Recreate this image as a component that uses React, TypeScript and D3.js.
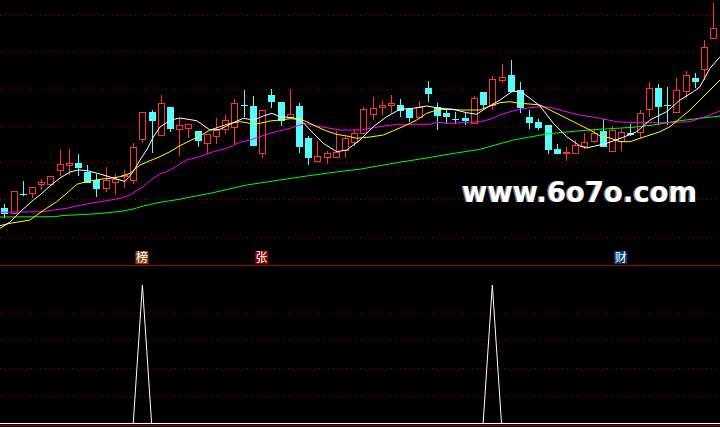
import React from "react";
import * as d3 from "d3";

const W = 720;
const H = 427;

// candle data (price units)
const opens = [
  9.2, 8.67, 10.58, 10.75, 11.55, 11.55, 12.97, 13.53, 13.7, 12.8,
  12.0, 11.23, 11.85, 12.37, 12.0, 16.15, 18.77, 16.53, 19.27, 17.07,
  17.25, 16.9, 15.67, 16.45, 17.12, 17.33, 19.47, 19.4, 14.67, 20.5,
  19.78, 18.3, 19.4, 16.2, 13.95, 14.33, 14.33, 15.04, 15.85, 16.67,
  18.57, 19.33, 19.47, 19.47, 19.05, 18.33, 21.18, 19.35, 18.7, 18.09,
  18.25, 17.67, 20.78, 19.55, 22.0, 22.5, 21.0, 18.3, 17.8, 17.5,
  15.08, 14.73, 14.73, 15.37, 15.93, 16.9, 14.93, 15.93, 16.7, 16.77,
  19.07, 21.17, 19.48, 18.77, 20.93, 22.17, 23.07, 26.17, 26.77,
];
const closes = [
  8.67, 10.87, 10.56, 11.27, 11.77, 12.4, 13.6, 13.7, 13.32, 11.8,
  11.23, 12.0, 12.1, 12.55, 15.28, 18.77, 18.02, 19.68, 17.23, 17.47,
  17.6, 16.02, 16.6, 17.05, 17.98, 19.67, 19.46, 15.5, 19.0, 19.93,
  18.0, 18.58, 15.43, 14.33, 14.4, 14.68, 14.8, 16.18, 16.67, 19.07,
  19.17, 19.48, 19.67, 18.98, 18.32, 19.35, 20.7, 18.52, 18.4, 18.08,
  18.03, 20.17, 19.65, 22.07, 22.27, 20.92, 19.33, 17.8, 17.33, 15.13,
  14.73, 14.78, 15.47, 15.78, 16.7, 15.43, 17.02, 16.77, 16.6, 18.67,
  21.17, 19.4, 19.47, 21.0, 22.47, 21.93, 25.27, 27.17, 26.63,
];
const highs = [
  9.6, 10.87, 11.9, 11.27, 12.1, 12.4, 15.0, 15.1, 14.6, 13.5,
  12.65, 13.27, 12.58, 13.0, 15.7, 18.77, 19.0, 20.48, 19.27, 18.23,
  17.6, 16.9, 16.6, 18.23, 18.5, 20.1, 21.0, 20.4, 19.0, 21.1,
  19.78, 21.1, 19.67, 16.4, 15.9, 14.92, 16.9, 16.43, 17.07, 19.27,
  20.3, 20.0, 20.48, 20.08, 19.05, 19.9, 21.9, 19.7, 19.07, 18.83,
  18.77, 20.45, 20.78, 22.4, 23.58, 24.0, 21.77, 19.0, 18.13, 17.5,
  15.6, 15.28, 16.0, 16.67, 17.07, 18.07, 17.4, 17.07, 17.6, 19.0,
  21.83, 21.6, 21.27, 22.17, 22.9, 22.67, 26.0, 29.73, 27.0,
];
const lows = [
  8.27, 8.67, 10.55, 10.33, 11.13, 11.55, 12.53, 12.65, 12.53, 11.8,
  10.43, 10.93, 10.6, 11.33, 11.73, 15.85, 14.8, 16.53, 16.9, 14.5,
  16.33, 15.43, 14.7, 15.7, 16.73, 15.7, 18.45, 15.5, 14.33, 19.33,
  17.53, 18.3, 14.83, 13.57, 13.95, 13.73, 14.33, 14.33, 15.53, 16.67,
  18.07, 18.57, 18.82, 18.45, 17.87, 18.33, 19.92, 17.13, 17.67, 17.67,
  17.57, 17.67, 19.23, 19.07, 21.83, 20.92, 18.83, 17.23, 17.13, 14.73,
  14.67, 14.03, 14.73, 15.17, 15.83, 15.43, 14.93, 15.0, 16.5, 16.33,
  18.4, 17.6, 17.6, 18.77, 20.33, 21.27, 22.07, 26.17, 26.4,
];

// moving averages: [candle index, price]
const ma5: [number, number][] = [
  [-0.47, 7.17], [0.62, 7.8], [1.71, 8.8], [3.15, 10.0], [3.88, 10.5], [4.96, 11.4],
  [6.05, 12.2], [7.14, 12.8], [8.0, 13.0], [8.98, 12.95], [10.39, 12.6], [11.48, 12.3],
  [12.57, 12.0], [13.11, 11.85], [14.01, 12.83], [14.74, 14.0], [15.46, 15.0], [16.18, 16.3],
  [16.91, 17.3], [17.64, 17.73], [18.35, 18.05], [19.08, 18.2], [20.9, 17.93], [22.34, 17.0],
  [23.43, 17.07], [24.87, 17.73], [25.96, 18.17], [27.04, 18.0], [28.13, 18.4], [29.04, 18.67],
  [29.94, 18.33], [31.39, 18.23], [32.47, 17.73], [33.56, 16.67], [34.64, 15.67], [36.1, 14.83],
  [37.19, 15.0], [38.63, 16.0], [40.07, 17.33], [41.53, 18.33], [42.97, 19.07], [44.42, 19.17],
  [45.87, 19.4], [47.32, 19.17], [48.76, 19.07], [50.21, 18.73], [51.3, 18.57], [52.39, 19.23],
  [53.83, 20.0], [55.28, 20.93], [56.36, 20.67], [57.45, 19.93], [58.18, 19.4], [59.62, 17.67],
  [61.08, 16.33], [62.52, 15.4], [63.24, 15.2], [65.42, 15.67], [67.22, 16.27], [68.68, 16.83],
  [70.12, 18.0], [71.93, 18.83], [73.38, 20.0], [74.83, 20.83], [75.55, 21.33], [76.64, 23.17],
  [77.73, 24.33],
];
const ma10: [number, number][] = [
  [-0.47, 7.43], [0.62, 7.67], [1.71, 7.83], [2.79, 8.0], [3.52, 8.5], [4.6, 9.17],
  [5.69, 9.83], [6.78, 10.67], [7.86, 11.57], [8.95, 11.83], [10.39, 12.07], [11.48, 12.17],
  [12.57, 12.33], [13.65, 12.67], [14.74, 13.5], [15.82, 13.93], [16.91, 14.33], [17.99, 14.83],
  [19.08, 15.43], [20.17, 15.93], [21.25, 16.4], [22.34, 17.0], [23.43, 17.33], [24.51, 17.67],
  [25.6, 17.83], [26.32, 17.73], [27.04, 17.57], [27.77, 17.67], [28.86, 17.9], [29.94, 18.0],
  [31.03, 18.13], [32.11, 18.07], [32.84, 17.83], [33.93, 17.33], [35.01, 16.9], [36.1, 16.57],
  [37.19, 16.4], [38.27, 16.17], [39.72, 16.3], [41.16, 16.5], [42.25, 16.93], [43.7, 17.5],
  [44.78, 18.0], [45.87, 18.67], [46.96, 19.0], [48.4, 19.07], [49.49, 19.0], [51.66, 19.0],
  [52.75, 19.4], [53.83, 19.73], [54.92, 19.83], [56.0, 19.67], [57.09, 19.6], [58.18, 19.5],
  [59.27, 19.0], [60.35, 18.5], [61.44, 18.0], [62.52, 17.5], [63.61, 17.0], [64.7, 16.4],
  [65.78, 16.2], [66.87, 15.83], [67.96, 15.83], [69.04, 16.17], [70.13, 16.5], [71.21, 16.83],
  [72.3, 17.33], [73.38, 18.17], [74.47, 19.0], [75.55, 20.0], [76.64, 21.0], [77.73, 22.0],
];
const ma20: [number, number][] = [
  [-0.47, 8.77], [4.24, 8.83], [5.32, 9.0], [6.78, 9.17], [7.86, 9.4], [8.95, 9.6],
  [10.03, 9.77], [11.12, 9.93], [12.57, 10.17], [13.65, 10.5], [15.06, 11.33], [16.01, 12.07],
  [16.91, 12.6], [17.99, 13.0], [19.81, 14.0], [21.25, 14.33], [22.7, 14.83], [24.15, 15.17],
  [25.6, 15.77], [26.68, 16.0], [27.77, 16.33], [28.86, 16.67], [29.94, 16.93], [31.03, 17.17],
  [32.11, 17.5], [32.66, 17.67], [33.93, 17.4], [35.37, 17.17], [36.46, 17.0], [38.63, 17.0],
  [40.8, 17.33], [42.62, 17.57], [46.23, 17.57], [46.96, 17.77], [48.4, 17.67], [51.66, 17.83],
  [52.75, 18.07], [53.83, 18.5], [54.92, 18.83], [56.0, 19.07], [57.09, 19.23], [58.18, 19.33],
  [59.27, 19.27], [60.35, 19.0], [61.44, 18.73], [62.52, 18.5], [63.61, 18.33], [64.7, 18.17],
  [66.51, 17.83], [68.28, 17.73], [71.93, 17.73], [74.47, 17.83], [75.55, 18.17], [76.64, 18.5],
  [77.73, 18.9],
];
const ma60: [number, number][] = [
  [-0.47, 8.3], [5.51, 8.33], [6.37, 8.45], [8.55, 8.55], [10.39, 8.65], [12.56, 8.85],
  [14.0, 9.1], [15.1, 9.4], [16.91, 9.77], [19.08, 10.08], [22.67, 10.73], [26.32, 11.5],
  [29.94, 12.0], [32.84, 12.4], [36.46, 12.85], [38.63, 13.08], [42.21, 13.67], [45.87, 14.2],
  [48.4, 14.6], [51.66, 15.07], [55.28, 16.0], [58.9, 16.6], [62.52, 16.93], [64.7, 17.07],
  [68.28, 17.27], [70.45, 17.5], [73.38, 17.93], [75.55, 18.17], [77.73, 18.4],
];

// indicator (lower panel)
const signal = [
  0, 0, 0, 0, 0, 0, 0, 0, 0, 0,
  0, 0, 0, 0, 0, 100, 0, 0, 0, 0,
  0, 0, 0, 0, 0, 0, 0, 0, 0, 0,
  0, 0, 0, 0, 0, 0, 0, 0, 0, 0,
  0, 0, 0, 0, 0, 0, 0, 0, 0, 0,
  0, 0, 0, 100, 0, 0, 0, 0, 0, 0,
  0, 0, 0, 0, 0, 0, 0, 0, 0, 0,
  0, 0, 0, 0, 0, 0, 0, 0, 0,
];
const markerIndex = [15, 28, 67];
const markerText = ["榜", "张", "财"];

const priceGrid = [28.55, 24.85, 21.15, 17.45, 13.75, 10.05, 6.35];
const indicatorGrid = [20, 40, 60, 80];

const RED = "#ff3232";
const CYAN = "#54fcfc";
const GRID = "#a00000";
const markerBg = ["#8b4513", "#8b0000", "#003a78"];

export default function App() {
  const x = d3.scaleLinear().domain([0, 77]).range([4.3, 713.3]);
  const y = d3.scaleLinear().domain([6, 30]).range([240, 0]);
  const yl = d3.scaleLinear().domain([0, 100]).range([423.5, 285]);

  const maLine = d3
    .line<[number, number]>()
    .x((d) => x(d[0]))
    .y((d) => y(d[1]));
  const sigLine = d3
    .line<number>()
    .x((_, i) => x(i))
    .y((d) => yl(d));

  const candles = opens.map((o, i) => {
    const c = closes[i];
    const cx = Math.round(x(i));
    const up = c >= o;
    const yTop = Math.round(y(Math.max(o, c)));
    const yBot = Math.round(y(Math.min(o, c)));
    const yH = Math.round(y(highs[i]));
    const yL = Math.round(y(lows[i]));
    const col = up ? RED : CYAN;
    if (yBot - yTop < 1) {
      return (
        <g key={i}>
          <line x1={cx + 0.5} x2={cx + 0.5} y1={yH} y2={yL + 1} stroke={col} />
          <line x1={cx - 3} x2={cx + 4} y1={yTop + 0.5} y2={yTop + 0.5} stroke={col} />
        </g>
      );
    }
    if (up) {
      return (
        <g key={i}>
          {yH < yTop && <line x1={cx + 0.5} x2={cx + 0.5} y1={yH} y2={yTop} stroke={col} />}
          {yL > yBot && <line x1={cx + 0.5} x2={cx + 0.5} y1={yBot + 1} y2={yL + 1} stroke={col} />}
          <rect x={cx - 2.5} y={yTop + 0.5} width={6} height={yBot - yTop} fill="#000" stroke={col} />
        </g>
      );
    }
    return (
      <g key={i}>
        <line x1={cx + 0.5} x2={cx + 0.5} y1={yH} y2={yL + 1} stroke={col} />
        <rect x={cx - 3} y={yTop} width={7} height={yBot - yTop + 1} fill={col} />
      </g>
    );
  });

  return (
    <svg width={W} height={H} style={{ display: "block", background: "#000" }}>
      <style>{"body{margin:0;background:#000}"}</style>
      <rect x={0} y={0} width={W} height={H} fill="#000" />
      {priceGrid.map((v) => (
        <line key={"g" + v} x1={0} x2={W} y1={Math.round(y(v)) + 0.5} y2={Math.round(y(v)) + 0.5}
          stroke={GRID} strokeDasharray="1 3 1 4" />
      ))}
      {indicatorGrid.map((v) => (
        <line key={"i" + v} x1={0} x2={W} y1={Math.round(yl(v)) + 0.5} y2={Math.round(yl(v)) + 0.5}
          stroke={GRID} strokeDasharray="1 3 1 4" />
      ))}
      <line x1={0} x2={W} y1={265.5} y2={265.5} stroke={GRID} />
      <line x1={0} x2={W} y1={425.5} y2={425.5} stroke={GRID} />

      <g shapeRendering="crispEdges">{candles}</g>

      <path d={maLine(ma60) || ""} fill="none" stroke="#00ff00" strokeWidth={1} />
      <path d={maLine(ma20) || ""} fill="none" stroke="#ff00ff" strokeWidth={1} />
      <path d={maLine(ma10) || ""} fill="none" stroke="#ffff00" strokeWidth={1} />
      <path d={maLine(ma5) || ""} fill="none" stroke="#ffffff" strokeWidth={1} />

      <text x={460.5} y={202} fontFamily="DejaVu Sans" fontWeight="bold" fontSize={27.5} fill="#777">
        www.6o7o.com
      </text>
      <text x={462} y={202} fontFamily="DejaVu Sans" fontWeight="bold" fontSize={27.5} fill="#fff">
        www.6o7o.com
      </text>

      {markerIndex.map((mi, k) => {
        const cx = x(mi) - 0.5;
        return (
          <g key={"m" + k}>
            <rect x={cx - 6.5} y={251} width={13} height={13} fill={markerBg[k]} />
            <text x={cx} y={262} textAnchor="middle" fontFamily="Noto Sans CJK SC" fontSize={12} fill="#fff">
              {markerText[k]}
            </text>
          </g>
        );
      })}

      <line x1={0} x2={W} y1={yl(0)} y2={yl(0)} stroke="#fff" />
      <path d={sigLine(signal) || ""} fill="none" stroke="#fff" strokeWidth={1} />
    </svg>
  );
}
